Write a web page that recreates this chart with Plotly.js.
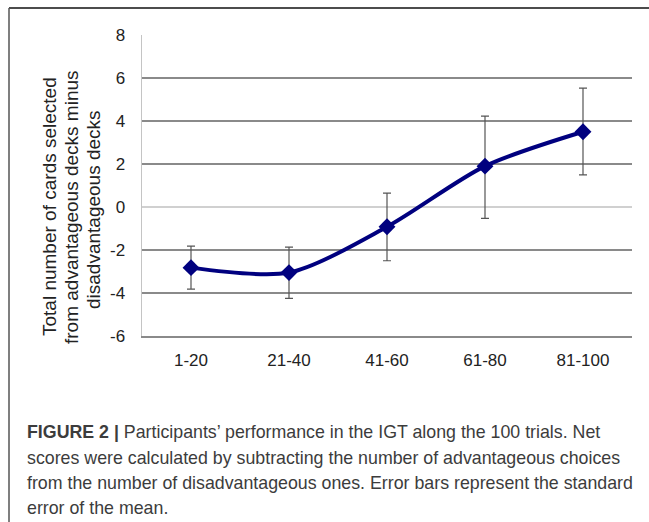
<!DOCTYPE html>
<html>
<head>
<meta charset="utf-8">
<script src="https://cdn.plot.ly/plotly-3.0.1.min.js"></script>
<style>
html,body{margin:0;padding:0;background:#fff;}
#chart{width:649px;height:522px;}
</style>
</head>
<body>
<div id="chart"></div>
<script>
// ---- data ----
const categories = ["1-20", "21-40", "41-60", "61-80", "81-100"];
const netScores = [-2.82, -3.05, -0.92, 1.90, 3.50];
const stdErrPlus = [1.00, 1.18, 1.57, 2.33, 2.03];
const stdErrMinus = [1.00, 1.20, 1.58, 2.43, 2.01];
const yTickVals = [-6, -4, -2, 0, 2, 4, 6, 8];
const yTickText = ["-6", "-4", "-2", "0", "2", "4", "6", "8"];
const yTitleLines = ["Total number of cards selected", "from advantageous decks minus", "disadvantageous decks"];
const captionLines = [
  "<b>FIGURE 2 |</b> Participants’ performance in the IGT along the 100 trials. Net",
  "scores were calculated by subtracting the number of advantageous choices",
  "from the number of disadvantageous ones. Error bars represent the standard",
  "error of the mean."
];

// ---- layout helpers (pixel -> paper) ----
const W = 649, H = 522, L = 142, R = 17, T = 35, B = 186;
const PW = W - L - R, PH = H - T - B;
const px = x => (x - L) / PW;
const py = y => 1 - (y - T) / PH;
const FONT = "Liberation Sans, Arial, sans-serif";

const trace = {
  x: categories,
  y: netScores,
  type: "scatter",
  mode: "lines+markers",
  line: {color: "#00007f", width: 4, shape: "spline", smoothing: 0.8},
  marker: {symbol: "diamond", size: 13, color: "#00007f"},
  error_y: {type: "data", symmetric: false, array: stdErrPlus, arrayminus: stdErrMinus,
            color: "#555555", thickness: 1.2, width: 4},
  hoverinfo: "skip",
  showlegend: false
};

const annotations = [];
const yTitleX = [49, 71, 93];
const yTitleY = [207, 207, 210];
yTitleLines.forEach((t, i) => annotations.push({
  text: t, xref: "paper", yref: "paper", x: px(yTitleX[i]), y: py(yTitleY[i]),
  xanchor: "center", yanchor: "middle", textangle: -90, showarrow: false,
  font: {family: FONT, size: 19, color: "#222"}
}));
const capY = [432, 458, 483, 508];
captionLines.forEach((t, i) => annotations.push({
  text: t, xref: "paper", yref: "paper", x: px(25), y: py(capY[i]),
  xanchor: "left", yanchor: "middle", showarrow: false,
  font: {family: FONT, size: 17.8, color: "#3c3c3c"}
}));

const layout = {
  width: W, height: H,
  margin: {l: L, r: R, t: T, b: B, pad: 0},
  paper_bgcolor: "#fff", plot_bgcolor: "#fff",
  font: {family: FONT, size: 17, color: "#222"},
  xaxis: {
    type: "category", range: [-0.5, 4.5], showgrid: false, zeroline: false,
    showline: true, linecolor: "#8a8a8a", linewidth: 1.5, ticks: "",
    ticklabelstandoff: 8, tickfont: {family: FONT, size: 17, color: "#222"}, fixedrange: true
  },
  yaxis: {
    range: [-6, 8], tickvals: yTickVals, ticktext: yTickText,
    showgrid: true, gridcolor: "#8a8a8a", gridwidth: 1.5,
    zeroline: true, zerolinecolor: "#d0d0d0", zerolinewidth: 1.5,
    showline: true, linecolor: "#c4c4c4", linewidth: 1.5, ticks: "",
    ticklabelstandoff: 12, tickfont: {family: FONT, size: 17, color: "#222"}, fixedrange: true
  },
  shapes: [
    {type: "line", xref: "paper", yref: "paper", x0: px(9), x1: px(649), y0: py(8), y1: py(8),
     line: {color: "#111", width: 1.5}},
    {type: "line", xref: "paper", yref: "paper", x0: px(9), x1: px(9), y0: py(8), y1: py(522),
     line: {color: "#555", width: 1.5}}
  ],
  annotations: annotations
};

Plotly.newPlot("chart", [trace], layout, {displayModeBar: false, staticPlot: true});
</script>
</body>
</html>
